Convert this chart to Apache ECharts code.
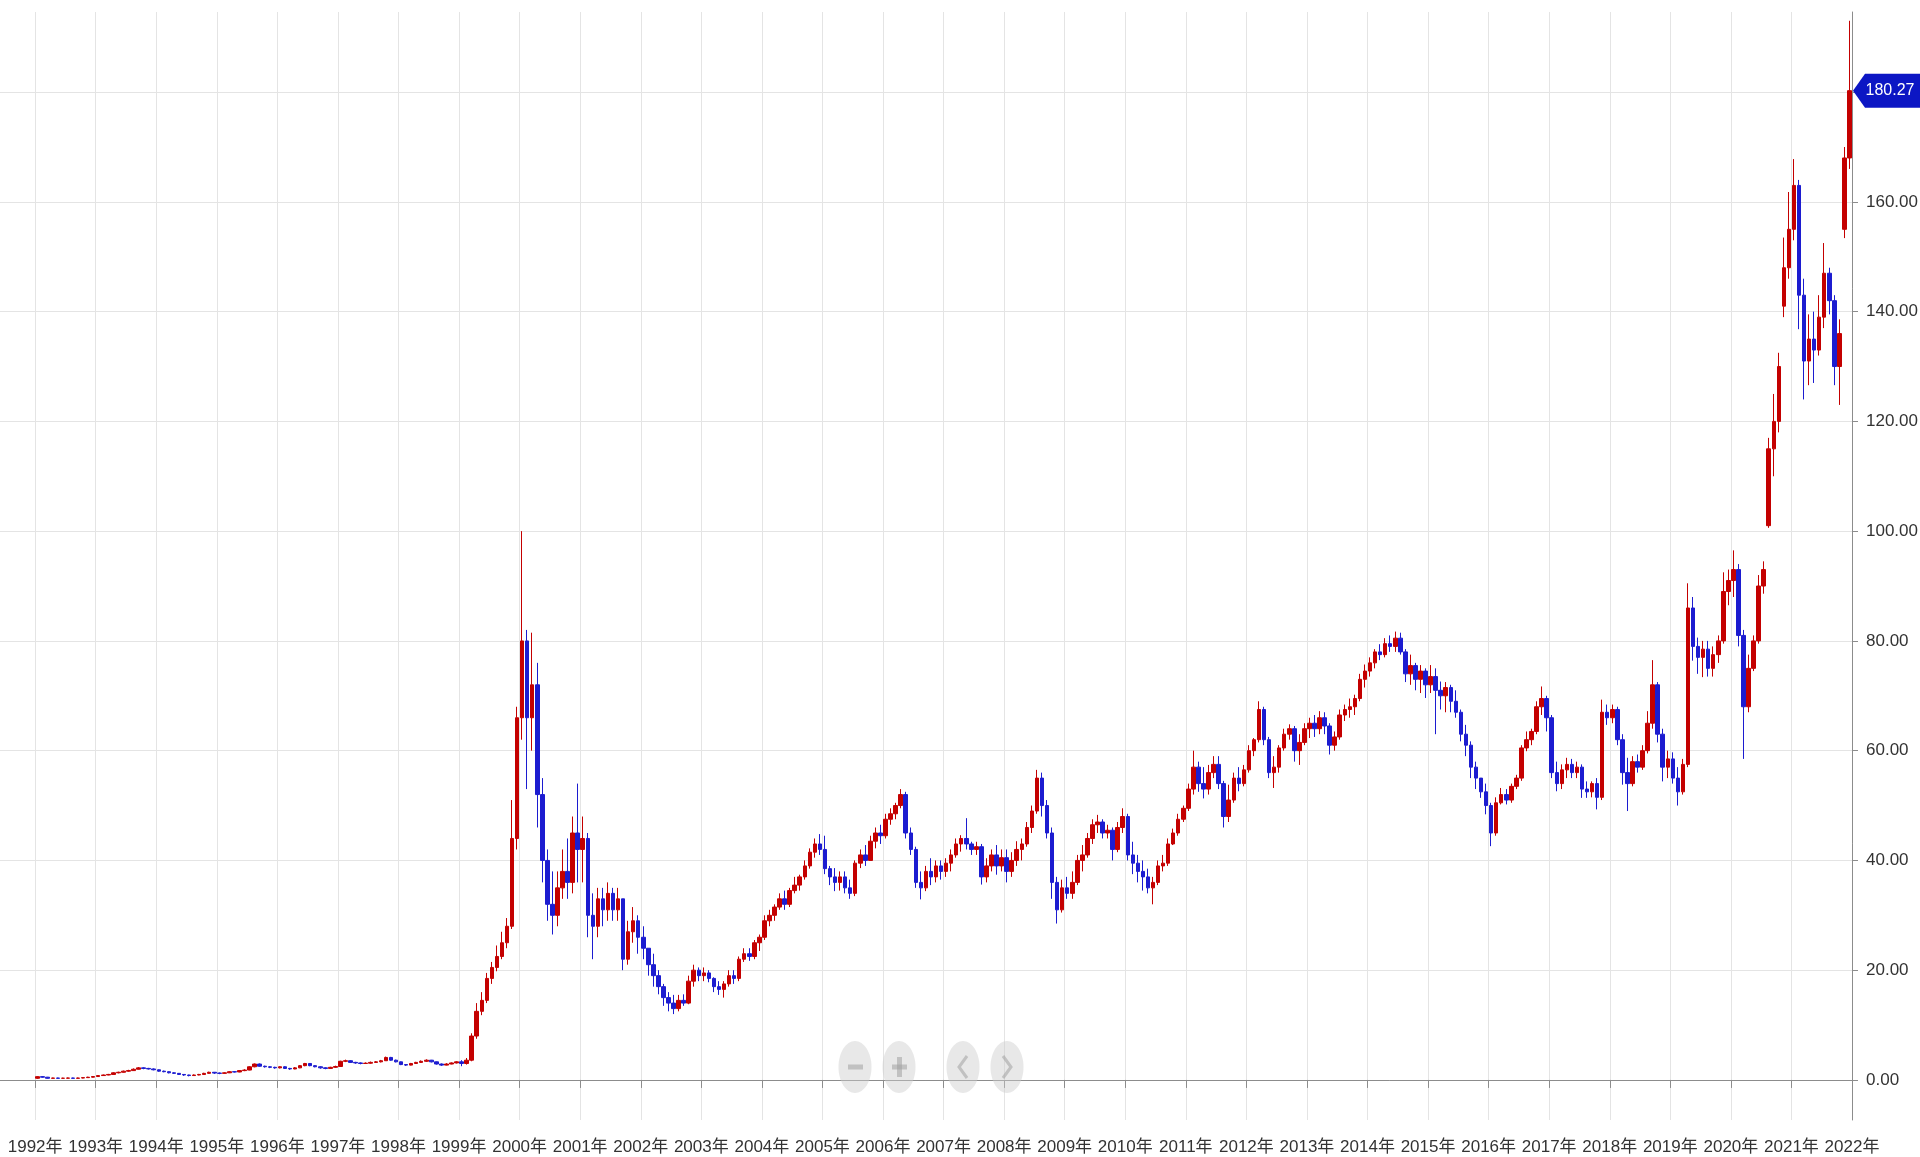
<!DOCTYPE html>
<html>
<head>
<meta charset="utf-8">
<script src="https://cdn.jsdelivr.net/npm/echarts@6/dist/echarts.min.js"></script>
<style>
html, body { margin: 0; padding: 0; background: #fff; }
#main { width: 1920px; height: 1157px; }
</style>
</head>
<body>
<div id="main"></div>
<script>
// 月K线数据 [开盘, 收盘, 最低, 最高]，从1992年1月开始
var firstYear = 1992;
var yearTicks = [1992, 1993, 1994, 1995, 1996, 1997, 1998, 1999, 2000, 2001, 2002, 2003, 2004, 2005, 2006,
    2007, 2008, 2009, 2010, 2011, 2012, 2013, 2014, 2015, 2016, 2017, 2018, 2019, 2020, 2021, 2022];
var priceTicks = [0, 20, 40, 60, 80, 100, 120, 140, 160, 180];

var ohlc1990s = [
    // 1992
    [0.3,0.6,0.2,0.7],[0.6,0.5,0.4,0.7],[0.5,0.3,0.25,0.55],[0.3,0.35,0.25,0.4],[0.35,0.3,0.25,0.4],[0.3,0.32,0.25,0.4],
    [0.32,0.35,0.28,0.42],[0.35,0.3,0.25,0.4],[0.3,0.35,0.28,0.42],[0.35,0.42,0.3,0.48],[0.42,0.5,0.38,0.58],[0.5,0.62,0.45,0.7],
    // 1993
    [0.62,0.8,0.55,0.85],[0.8,0.9,0.72,0.98],[0.9,1.0,0.85,1.1],[1.0,1.3,0.95,1.4],[1.3,1.4,1.2,1.5],[1.4,1.6,1.35,1.7],
    [1.6,1.7,1.5,1.85],[1.7,1.95,1.65,2.1],[1.95,2.2,1.9,2.35],[2.2,2.1,1.95,2.3],[2.1,2.0,1.9,2.2],[2.0,1.85,1.75,2.1],
    // 1994
    [1.85,1.6,1.5,1.9],[1.6,1.5,1.4,1.7],[1.5,1.3,1.2,1.55],[1.3,1.2,1.1,1.4],[1.2,1.0,0.9,1.25],[1.0,0.9,0.75,1.05],
    [0.9,0.8,0.65,0.95],[0.8,0.9,0.75,1.0],[0.9,1.0,0.85,1.1],[1.0,1.2,0.95,1.3],[1.2,1.4,1.15,1.5],[1.4,1.25,1.1,1.45],
    // 1995
    [1.25,1.2,1.05,1.35],[1.2,1.3,1.15,1.4],[1.3,1.5,1.25,1.6],[1.5,1.45,1.35,1.6],[1.45,1.7,1.4,1.8],[1.7,1.8,1.6,1.95],
    [1.8,2.4,1.75,2.5],[2.4,2.9,2.3,3.0],[2.9,2.5,2.4,3.0],[2.5,2.4,2.25,2.6],[2.4,2.3,2.15,2.5],[2.3,2.2,2.05,2.4],
    // 1996
    [2.2,2.4,2.1,2.5],[2.4,2.1,2.0,2.5],[2.1,2.0,1.85,2.2],[2.0,2.2,1.95,2.35],[2.2,2.6,2.15,2.7],[2.6,3.0,2.5,3.1],
    [3.0,2.6,2.5,3.05],[2.6,2.4,2.3,2.7],[2.4,2.2,2.05,2.5],[2.2,2.1,1.95,2.3],[2.1,2.3,2.0,2.4],[2.3,2.45,2.2,2.6],
    // 1997
    [2.45,3.4,2.4,3.5],[3.4,3.5,3.25,3.7],[3.5,3.2,3.1,3.6],[3.2,3.1,2.95,3.3],[3.1,3.0,2.85,3.2],[3.0,3.05,2.9,3.2],
    [3.05,3.2,2.95,3.35],[3.2,3.3,3.1,3.45],[3.3,3.5,3.2,3.65],[3.5,4.1,3.45,4.25],[4.1,3.6,3.5,4.2],[3.6,3.3,3.2,3.7],
    // 1998
    [3.3,2.8,2.7,3.35],[2.8,2.7,2.55,2.9],[2.7,3.0,2.65,3.1],[3.0,3.2,2.9,3.3],[3.2,3.4,3.1,3.55],[3.4,3.6,3.3,3.75],
    [3.6,3.3,3.2,3.65],[3.3,2.9,2.8,3.35],[2.9,2.7,2.55,3.0],[2.7,2.9,2.65,3.05],[2.9,3.1,2.85,3.2],[3.1,3.3,3.0,3.4],
    // 1999
    [3.3,3.0,2.5,3.6],[3.0,3.6,2.8,4.0],[3.6,8.0,3.4,8.5],[8.0,12.5,7.5,14.0],[12.5,14.5,11.8,16.0],[14.5,18.5,14.0,19.5],
    [18.5,20.5,17.5,21.5],[20.5,22.5,19.8,24.5],[22.5,25.0,22.0,27.0],[25.0,28.0,24.0,29.5],[28.0,44.0,27.5,51.0],[44.0,66.0,42.0,68.0]
];

var ohlc2000s = [
    // 2000
    [66,80,62,100],[80,66,53,82],[66,72,60,81.5],[72,52,46,76],[52,40,36,55],[40,32,29,42],
    [32,30,26.5,38],[30,35,28,38],[35,38,33,42],[38,36,33,44],[36,45,34,48],[45,42,36,54],
    // 2001
    [42,44,36,48],[44,30,26,45],[30,28,22,34],[28,33,26,35],[33,31,28,35],[31,34,29,36],
    [34,31,29,35],[31,33,29,35],[33,22,20,33],[22,27,21,29],[27,29,25,31.5],[29,26,23,30],
    // 2002
    [26,24,22,28],[24,21,19,24],[21,19,17,23],[19,17,15.6,20],[17,15,13.5,17.5],[15,14,12.5,16],
    [14,13,12,15.5],[13,14.5,12.5,15.5],[14.5,14,13.5,15.6],[14,18,13.8,19],[18,20,17,21],[20,19,18,20.5],
    // 2003
    [19,19.5,18,20.5],[19.5,18.5,17.8,20],[18.5,17,16,18.7],[17,16.5,15.5,18],[16.5,17.5,15,18],[17.5,19,17,20],
    [19,18.5,17.5,20],[18.5,22,18,22.5],[22,23,21.5,24],[23,22.5,21.7,24],[22.5,25,22,25.5],[25,26,23.5,26.5],
    // 2004
    [26,29,25.5,30],[29,30,28,31],[30,31.5,29,32],[31.5,33,31,34],[33,32,31,34.5],[32,34.5,31.5,35],
    [34.5,35.5,34,37],[35.5,37,34.5,37.4],[37,39,36.5,40],[39,41.5,38.5,42.2],[41.5,43,40.5,44],[43,42,41,44.8],
    // 2005
    [42,38.5,37.5,44.5],[38.5,37,35.5,39],[37,36,34.4,38.6],[36,37,34.5,38],[37,35,34,38],[35,34,33,36.5],
    [34,39.5,33.5,40],[39.5,41,38.6,42],[41,40,39,42.8],[40,43.5,40,44.5],[43.5,45,42.2,46],[45,44.5,43,46.5],
    // 2006
    [44.5,47.5,44,48.5],[47.5,48.5,46.5,49.5],[48.5,50,47.5,50.5],[50,52,49.5,53],[52,45,44,52.5],[45,42,41,46],
    [42,36,35,42.5],[36,35,32.9,38],[35,38,34.4,39],[38,37,35.5,40.4],[37,39,36,40],[39,38,36.5,40],
    // 2007
    [38,39.5,37,40.4],[39.5,41,38,42],[41,43,40.5,44],[43,44,41.6,44.6],[44,43,42,47.7],[43,42,41,43.4],
    [42,42.5,41,43.4],[42.5,37,35.6,43],[37,39,36,40.4],[39,41,38,42],[41,39,37.4,42.8],[39,40.5,38,42],
    // 2008
    [40.5,38,36,42],[38,40,37,41.5],[40,42,39,43.5],[42,43,40,44],[43,46,42.5,47],[46,49,45,50],
    [49,55,48.5,56.5],[55,50,48,56],[50,45,44,51],[45,36,33,46],[36,31,28.5,37],[31,35,30.5,36.5],
    // 2009
    [35,34,33,37],[34,36,33,38],[36,40,35.5,41],[40,41,38,42.8],[41,44,40.5,45],[44,46.5,43,47.5],
    [46.5,47,45,48.3],[47,45,44,47.5],[45,45.5,44,46.5],[45.5,42,40,46],[42,46,41.5,47],[46,48,45,49.5]
];

var ohlc2010s = [
    // 2010
    [48,41,40,48.5],[41,39.5,37.5,43.4],[39.5,38,36,41],[38,37,34.5,40],[37,35,34,38.5],[35,36,32,37],
    [36,39,35.5,40],[39,39.5,38,41],[39.5,43,39,44],[43,45,42.8,45.8],[45,47.5,44.5,48.5],[47.5,49.5,47,50],
    // 2011
    [49.5,53,49,54],[53,57,52,60],[57,54,52.5,58],[54,53,51.3,57],[53,56,52,57.4],[56,57.5,55,59],
    [57.5,54,53,59],[54,48,46,54.5],[48,51,47,53.8],[51,55,50.5,56],[55,54,52.6,57],[54,56.5,53.5,57.4],
    // 2012
    [56.5,60,56,61],[60,62,59,62.3],[62,67.5,61.5,69],[67.5,62,61,68],[62,56,55,62.5],[56,57,53.2,59],
    [57,60.5,56,61],[60.5,63,60,64],[63,64,62,64.8],[64,60,58,64.5],[60,61.5,57.4,63],[61.5,64,61,65],
    // 2013
    [64,65,62.3,66],[65,64,62.5,66.5],[64,66,63,67.2],[66,64.5,63,67],[64.5,61,59.3,65],[61,62.5,60,63.5],
    [62.5,66.5,62,67.5],[66.5,67.5,65.4,68.4],[67.5,68,66,69.5],[68,69.5,66.5,70.2],[69.5,73,69,74],[73,74.5,71.5,75.7],
    // 2014
    [74.5,76,73.5,77],[76,78,75,78.5],[78,77.5,76.5,79.4],[77.5,79.5,77,80.5],[79.5,79,78,81],[79,80.5,78,81.7],
    [80.5,78,77.5,81.5],[78,74,72.5,78.5],[74,75.5,72,77.5],[75.5,73,71,76],[73,74.5,70.5,75.6],[74.5,72,69.6,75],
    // 2015
    [72,73.5,70.5,75.6],[73.5,71,63,75],[71,70,67.5,72.6],[70,71.5,67,72.5],[71.5,69,67,72],[69,67,66,71],
    [67,63,61.7,67.5],[63,61,59,64.7],[61,57,55,61.7],[57,55,53,58],[55,52.5,51.4,55],[52.5,50,48.4,54],
    // 2016
    [50,45,42.6,50.5],[45,50.5,44.5,51.5],[50.5,52,50.2,53.2],[52,51,50.2,53],[51,53.5,50.5,54],[53.5,55,53,55.6],
    [55,60.5,54.5,61],[60.5,62,59.9,63.5],[62,63.5,61,64],[63.5,68,63,69],[68,69.5,66.5,71.7],[69.5,66,63.5,70],
    // 2017
    [66,56,55,66.5],[56,54,52.6,58],[54,56.5,53,57.5],[56.5,57.5,55,58.7],[57.5,56,55,58.5],[56,57,55,58],
    [57,53,51.4,57.5],[53,52.5,51.4,54.4],[52.5,54,51.5,54.4],[54,51.5,49.3,55],[51.5,67,51,69.3],[67,66,64.7,68.4],
    // 2018
    [66,67.5,65,68.4],[67.5,62,61,68],[62,56,53.8,63],[56,54,49,58.7],[54,58,53.5,59],[58,57,56,59.3],
    [57,60,56.5,61],[60,65,59.5,67.2],[65,72,64,76.5],[72,63,61.5,72.5],[63,57,54.4,64],[57,58.5,55,60],
    // 2019
    [58.5,55,54,59.7],[55,52.5,50,57],[52.5,57.5,52,58.5],[57.5,86,57,90.5],[86,79,76.4,88],[79,77,74,80.6],
    [77,78.5,73.4,80],[78.5,75,73.5,80],[75,77.5,73.5,79],[77.5,80,76,81],[80,89,79.5,92.5],[89,91,86.5,93]
];

var ohlc2020s = [
    // 2020
    [91,93,88,96.5],[93,81,79,94],[81,68,58.5,82],[68,75,67,77.5],[75,80,74.5,81],[80,90,79.5,92],
    [90,93,88.6,94.5],[101,115,100.6,117],[115,120,110,125],[120,130,118,132.5],[141,148,139,153.5],[148,155,146,161.8],
    // 2021
    [155,163,153,167.8],[163,143,136.8,164],[143,131,124,146],[131,135,126.6,139.5],[135,133,127,140],[133,139,132,143],
    [139,147,137,152.5],[147,142,139.5,148],[142,130,126.6,143],[130,136,123,138.6],[155,168,153.4,170],[168,180.27,166,193]
];

var candles = ohlc1990s.concat(ohlc2000s, ohlc2010s, ohlc2020s);
// 横轴用小数年份，每根K线放在当月中间
var data = candles.map(function (c, i) {
    return [firstYear + (i + 0.5) / 12, c[0], c[1], c[2], c[3]];
});
var lastPrice = candles[candles.length - 1][1];

var font = "'Liberation Sans', Arial, 'Noto Sans CJK SC', sans-serif";
var upColor = '#c40000';
var downColor = '#1c1cd0';

var myChart = echarts.init(document.getElementById('main'));

var option = {
    animation: false,
    backgroundColor: '#fff',
    grid: {
        left: 0,
        right: 68,
        top: 12,
        bottom: 37,
        outerBoundsMode: 'none'
    },
    xAxis: {
        type: 'value',
        min: 1991.42,
        max: 2022,
        axisLine: { lineStyle: { color: '#8c8c8c', width: 1 } },
        axisTick: { length: 8, lineStyle: { color: '#8c8c8c' }, customValues: yearTicks },
        axisLabel: {
            customValues: yearTicks,
            formatter: function (v) { return Math.round(v) + '年'; },
            showMinLabel: true,
            showMaxLabel: true,
            color: '#333',
            fontSize: 17,
            fontFamily: font,
            margin: 19
        },
        splitLine: { show: true, lineStyle: { color: '#e4e4e4', width: 1 } }
    },
    yAxis: {
        type: 'value',
        position: 'right',
        min: -7.3,
        max: 194.6,
        axisLine: { show: true, lineStyle: { color: '#8c8c8c', width: 1 } },
        axisTick: { show: true, length: 6, lineStyle: { color: '#8c8c8c' }, customValues: priceTicks },
        axisLabel: {
            customValues: priceTicks,
            formatter: function (v) { return v.toFixed(2); },
            color: '#333',
            fontSize: 17,
            fontFamily: font,
            margin: 14
        },
        splitLine: { show: true, lineStyle: { color: '#e4e4e4', width: 1 } }
    },
    series: [
        {
            name: 'K线',
            type: 'candlestick',
            data: data,
            encode: { x: 0, y: [1, 2, 3, 4] },
            barWidth: 4,
            itemStyle: {
                color: upColor,
                color0: downColor,
                borderColor: upColor,
                borderColor0: downColor,
                borderWidth: 1
            }
        }
    ]
};
myChart.setOption(option);

// 最新价标签 + 缩放按钮
var py = myChart.convertToPixel({ yAxisIndex: 0 }, lastPrice);
var btnFill = 'rgba(205,205,205,0.45)';
var iconColor = 'rgba(160,160,160,0.55)';
var btnY = 1067;
myChart.setOption({
    graphic: [
        {
            type: 'polygon',
            x: 1853, y: py,
            shape: { points: [[0, 0], [12, -17], [67, -17], [67, 17], [12, 17]] },
            style: { fill: '#0c16c4' },
            z: 100
        },
        {
            type: 'text',
            x: 1890, y: py,
            style: {
                text: lastPrice.toFixed(2),
                fill: '#fff',
                font: '16px ' + font,
                textAlign: 'center',
                textVerticalAlign: 'middle'
            },
            z: 101
        },
        { type: 'ellipse', shape: { cx: 855, cy: btnY, rx: 16.5, ry: 26 }, style: { fill: btnFill }, z: 50 },
        { type: 'ellipse', shape: { cx: 899, cy: btnY, rx: 16.5, ry: 26 }, style: { fill: btnFill }, z: 50 },
        { type: 'ellipse', shape: { cx: 963, cy: btnY, rx: 16.5, ry: 26 }, style: { fill: btnFill }, z: 50 },
        { type: 'ellipse', shape: { cx: 1007, cy: btnY, rx: 16.5, ry: 26 }, style: { fill: btnFill }, z: 50 },
        { type: 'rect', shape: { x: 848, y: btnY - 2.5, width: 15, height: 5 }, style: { fill: iconColor }, z: 51 },
        { type: 'rect', shape: { x: 892, y: btnY - 2.5, width: 15, height: 5 }, style: { fill: iconColor }, z: 51 },
        { type: 'rect', shape: { x: 897, y: btnY - 10, width: 5, height: 20 }, style: { fill: iconColor }, z: 51 },
        { type: 'polyline', shape: { points: [[967, btnY - 11], [959, btnY], [967, btnY + 11]] }, style: { stroke: iconColor, lineWidth: 3, fill: null }, z: 51 },
        { type: 'polyline', shape: { points: [[1003, btnY - 11], [1011, btnY], [1003, btnY + 11]] }, style: { stroke: iconColor, lineWidth: 3, fill: null }, z: 51 }
    ]
});
</script>
</body>
</html>
